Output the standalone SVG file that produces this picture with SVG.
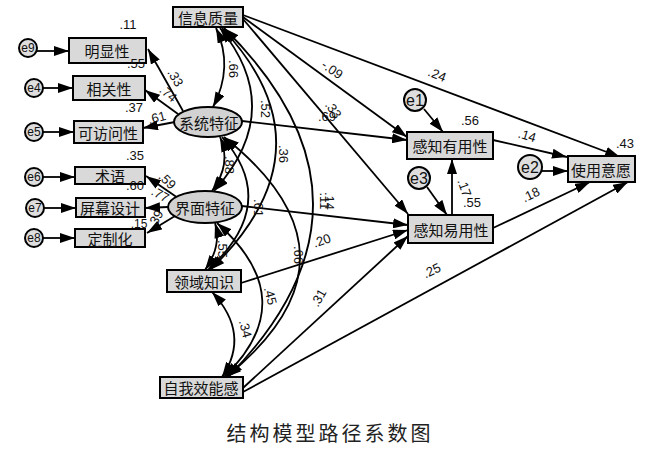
<svg xmlns="http://www.w3.org/2000/svg" width="660" height="452" viewBox="0 0 660 452">
<defs>
<marker id="ah" viewBox="0 0 15 10" refX="15" refY="5" markerWidth="15" markerHeight="10" orient="auto" markerUnits="userSpaceOnUse"><path d="M0,0 L15,5 L0,10 z" fill="#000"/></marker>
<marker id="ahs" viewBox="0 0 15 10" refX="15" refY="5" markerWidth="15" markerHeight="10" orient="auto-start-reverse" markerUnits="userSpaceOnUse"><path d="M0,0 L15,5 L0,10 z" fill="#000"/></marker>
</defs>
<style>
.box{fill:#d9d9d9;stroke:#000;stroke-width:2}
.lat{fill:#d2d2d2;stroke:#000;stroke-width:2}
.err{fill:#dedede;stroke:#000;stroke-width:2}
.lbl{font-family:"Noto Sans CJK SC",sans-serif;font-size:15px;text-anchor:middle;dominant-baseline:central;fill:#111}
.el{font-family:"Liberation Sans",Arial,sans-serif;font-size:12px;text-anchor:middle;dominant-baseline:central;fill:#111}
.eb{font-family:"Liberation Sans",Arial,sans-serif;font-size:16px;text-anchor:middle;dominant-baseline:central;fill:#111}
.num{font-family:"Liberation Sans",Arial,sans-serif;font-size:13px;text-anchor:middle;fill:#111}
.ln{stroke:#000;stroke-width:1.8;fill:none;marker-end:url(#ah)}
.cov{stroke:#000;stroke-width:1.8;fill:none;marker-start:url(#ahs);marker-end:url(#ah)}
.cap{font-family:"Noto Sans CJK SC",serif;font-size:20px;text-anchor:middle;fill:#222;letter-spacing:3px}
</style>
<rect width="660" height="452" fill="#fff"/>

<g id="connectors">
<line class="ln" x1="37" y1="51" x2="69" y2="51"/>
<line class="ln" x1="43" y1="88" x2="73" y2="88"/>
<line class="ln" x1="43" y1="132" x2="74" y2="132"/>
<line class="ln" x1="43" y1="177" x2="75" y2="177"/>
<line class="ln" x1="44" y1="208" x2="76" y2="208"/>
<line class="ln" x1="43" y1="238" x2="75" y2="238"/>
<line class="ln" x1="183" y1="111" x2="148" y2="49"/>
<line class="ln" x1="178" y1="114" x2="145" y2="90"/>
<line class="ln" x1="175" y1="122" x2="143" y2="128"/>
<line class="ln" x1="178" y1="198" x2="146" y2="176"/>
<line class="ln" x1="168" y1="207" x2="145" y2="208"/>
<line class="ln" x1="175" y1="216" x2="147" y2="233"/>
<line class="ln" x1="243" y1="15" x2="620" y2="157"/>
<line class="ln" x1="243" y1="17" x2="407" y2="137"/>
<line class="ln" x1="243" y1="19" x2="408" y2="214"/>
<line class="ln" x1="242" y1="121" x2="407" y2="140"/>
<line class="ln" x1="242" y1="206" x2="408" y2="225"/>
<line class="ln" x1="241" y1="283" x2="408" y2="230"/>
<line class="ln" x1="243" y1="388" x2="408" y2="236"/>
<line class="ln" x1="243" y1="392" x2="628" y2="182"/>
<line class="ln" x1="493" y1="140" x2="567" y2="157"/>
<line class="ln" x1="493" y1="228" x2="590" y2="182"/>
<line class="ln" x1="452" y1="215" x2="452" y2="159"/>
<line class="ln" x1="424" y1="109" x2="443" y2="132"/>
<line class="ln" x1="427" y1="187" x2="447" y2="215"/>
<line class="ln" x1="542" y1="171" x2="568" y2="171"/>
<path class="cov" d="M216,28 Q234,67 213,107"/>
<path class="cov" d="M220,137 Q232,164 212,191"/>
<path class="cov" d="M215,223 Q222,246 205,270"/>
<path class="cov" d="M212,292 Q251,334 222,377"/>
<path class="cov" d="M220,28 Q287,110 214,191"/>
<path class="cov" d="M222,137 Q281,203 208,270"/>
<path class="cov" d="M217,223 Q304,300 224,377"/>
<path class="cov" d="M222,28 Q336,149 210,270"/>
<path class="cov" d="M224,137 Q375,257 226,377"/>
<path class="cov" d="M224,28 Q400,202 228,377"/>
</g>

<g id="n_e9"><circle class="err" cx="28" cy="48" r="9"/><text class="el" x="28" y="48">e9</text></g>
<g id="n_e4"><circle class="err" cx="34" cy="88" r="9"/><text class="el" x="34" y="88">e4</text></g>
<g id="n_e5"><circle class="err" cx="34" cy="132" r="9"/><text class="el" x="34" y="132">e5</text></g>
<g id="n_e6"><circle class="err" cx="34" cy="177" r="9"/><text class="el" x="34" y="177">e6</text></g>
<g id="n_e7"><circle class="err" cx="35" cy="208" r="9"/><text class="el" x="35" y="208">e7</text></g>
<g id="n_e8"><circle class="err" cx="34" cy="238" r="9"/><text class="el" x="34" y="238">e8</text></g>

<g id="n_mxx"><rect class="box" x="69" y="38" width="77" height="25"/><text class="lbl" x="107" y="50">明显性</text></g>
<g id="n_xgx"><rect class="box" x="73" y="76" width="72" height="24"/><text class="lbl" x="109" y="88">相关性</text></g>
<g id="n_kfwx"><rect class="box" x="74" y="121" width="69" height="22"/><text class="lbl" x="108" y="132">可访问性</text></g>
<g id="n_sy"><rect class="box" x="75" y="167" width="70" height="17"/><text class="lbl" x="110" y="175">术语</text></g>
<g id="n_pmsj"><rect class="box" x="76" y="198" width="69" height="19"/><text class="lbl" x="110" y="207">屏幕设计</text></g>
<g id="n_dzh"><rect class="box" x="75" y="229" width="70" height="18"/><text class="lbl" x="110" y="238">定制化</text></g>

<g id="n_xxzl"><rect class="box" x="173" y="7" width="70" height="20"/><text class="lbl" x="208" y="17">信息质量</text></g>
<g id="n_xttz"><ellipse class="lat" cx="208" cy="122" rx="34" ry="15"/><text class="lbl" x="209" y="122">系统特征</text></g>
<g id="n_jmtz"><ellipse class="lat" cx="205" cy="207" rx="37" ry="16"/><text class="lbl" x="205" y="207">界面特征</text></g>
<g id="n_lyzs"><rect class="box" x="167" y="270" width="74" height="22"/><text class="lbl" x="204" y="281">领域知识</text></g>
<g id="n_wxng"><rect class="box" x="160" y="377" width="83" height="21"/><text class="lbl" x="201" y="387">自我效能感</text></g>

<g id="n_gzyy"><rect class="box" x="407" y="132" width="86" height="27"/><text class="lbl" x="450" y="145">感知有用性</text></g>
<g id="n_gzyyx"><rect class="box" x="408" y="215" width="85" height="28"/><text class="lbl" x="451" y="229">感知易用性</text></g>
<g id="n_syyy"><rect class="box" x="568" y="156" width="67" height="26"/><text class="lbl" x="601" y="169">使用意愿</text></g>
<g id="n_e1"><circle class="err" cx="415" cy="100" r="11"/><text class="eb" x="415" y="100">e1</text></g>
<g id="n_e3"><circle class="err" cx="419" cy="178" r="11"/><text class="eb" x="419" y="178">e3</text></g>
<g id="n_e2"><circle class="err" cx="530" cy="167" r="12"/><text class="eb" x="530" y="167">e2</text></g>

<g id="labels">
<text class="num" x="128" y="29">.11</text>
<text class="num" x="136" y="68">.55</text>
<text class="num" transform="rotate(60 175 78)" x="175" y="82">.33</text>
<text class="num" transform="rotate(40 168 94)" x="168" y="98">.74</text>
<text class="num" x="134" y="112">.37</text>
<text class="num" transform="rotate(-15 157 118)" x="157" y="122">.61</text>
<text class="num" x="135" y="160">.35</text>
<text class="num" x="135" y="190">.60</text>
<text class="num" transform="rotate(45 167 181)" x="167" y="185">.59</text>
<text class="num" transform="rotate(30 160 195)" x="160" y="199">.77</text>
<text class="num" x="139" y="228" style="font-size:12px">.15</text>
<text class="num" transform="rotate(-60 156 219)" x="156" y="223">.39</text>

<text class="num" transform="rotate(90 233 69)" x="233" y="73">.66</text>
<text class="num" transform="rotate(90 265 109)" x="265" y="113">.52</text>
<text class="num" transform="rotate(90 283 154)" x="283" y="158">.36</text>
<text class="num" transform="rotate(90 229 165)" x="229" y="169">.88</text>
<text class="num" transform="rotate(90 258 208)" x="258" y="212">.61</text>
<text class="num" transform="rotate(90 324 201)" x="324" y="205">.11</text>
<text class="num" transform="rotate(90 329 201)" x="329" y="205">.14</text>
<text class="num" transform="rotate(90 222 249)" x="222" y="253">.55</text>
<text class="num" transform="rotate(90 298 255)" x="298" y="259">.66</text>
<text class="num" transform="rotate(75 270 296)" x="270" y="300">.45</text>
<text class="num" transform="rotate(75 245 329)" x="245" y="333">.34</text>

<text class="num" transform="rotate(35 332 70)" x="332" y="74">-.09</text>
<text class="num" transform="rotate(22 437 75)" x="437" y="79">.24</text>
<text class="num" transform="rotate(55 333 110)" x="333" y="114">.33</text>
<text class="num" x="327" y="121">.69</text>
<text class="num" transform="rotate(-20 322 241)" x="322" y="245">.20</text>
<text class="num" transform="rotate(-60 319 298)" x="319" y="302">.31</text>
<text class="num" transform="rotate(-25 432 271)" x="432" y="275">.25</text>
<text class="num" x="470" y="125">.56</text>
<text class="num" transform="rotate(17 527 136)" x="527" y="140">.14</text>
<text class="num" x="625" y="148">.43</text>
<text class="num" transform="rotate(-25 531 195)" x="531" y="199">.18</text>
<text class="num" transform="rotate(70 464 188)" x="464" y="192">.17</text>
<text class="num" x="472" y="207">.55</text>
</g>

<text class="cap" x="330" y="441">结构模型路径系数图</text>
</svg>
